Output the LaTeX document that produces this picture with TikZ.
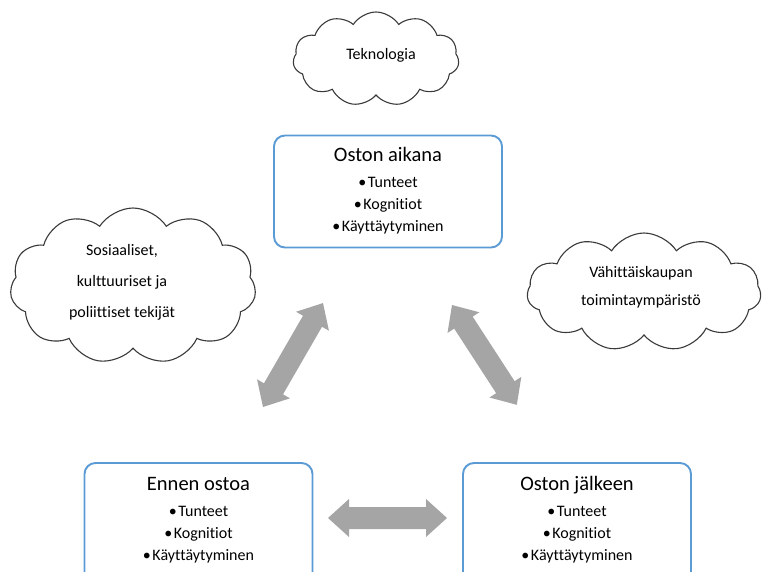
\documentclass[tikz,border=0pt]{standalone}
\usepackage{fontspec}
\setmainfont{Carlito}[Ligatures=NoCommon]
\usetikzlibrary{shapes.symbols}
\definecolor{boxblue}{HTML}{5B9BD5}
\definecolor{arrowgray}{HTML}{A5A5A5}
\definecolor{cloudline}{HTML}{3A3A3A}
\newcommand{\itembullet}{•\kern1.5pt}
\tikzset{
  x=1pt, y=-1pt,
  stagebox/.style={draw=boxblue, line width=1.9pt, rounded corners=11pt,
    fill=white, minimum width=228pt, inner sep=0pt},
  stagetitle/.style={anchor=base, font=\fontsize{20.5}{24}\selectfont, inner sep=0pt},
  stageitem/.style={anchor=base, font=\fontsize{16}{19}\selectfont, inner sep=0pt},
  cloudtext/.style={anchor=base, font=\fontsize{16}{19}\selectfont, inner sep=0pt},
  factor/.style={cloud, cloud puffs=11, cloud puff arc=115, cloud ignores aspect,
    draw=cloudline, line width=1.1pt, fill=white, inner sep=0pt},
  flowarrow/.style={fill=arrowgray, draw=none}
}
% double-headed block arrow of length #1 along the local x axis
\newcommand{\blockarrow}[1]{%
  \path[flowarrow] (0,0) -- (21,19) -- (21,11) -- (#1-21,11) -- (#1-21,19)
    -- (#1,0) -- (#1-21,-19) -- (#1-21,-11) -- (21,-11) -- (21,-19) -- cycle;}
\begin{document}
\begin{tikzpicture}
\useasboundingbox (0,0) rectangle (763,572);
\clip (0,0) rectangle (763,572);

% stage boxes
\node[stagebox, minimum height=112pt] (during) at (388,191.5) {};
\node[stagebox, minimum height=130pt] (before) at (198.5,528) {};
\node[stagebox, minimum height=130pt] (after) at (577,528) {};

% box texts
\node[stagetitle] (duringT) at (388,162) {Oston aikana};
\node[stageitem] (during1) at (388,188) {\itembullet Tunteet};
\node[stageitem] (during2) at (388,210) {\itembullet Kognitiot};
\node[stageitem] (during3) at (388,232) {\itembullet Käyttäytyminen};

\node[stagetitle] (beforeT) at (198.5,490) {Ennen ostoa};
\node[stageitem] (before1) at (198.5,516) {\itembullet Tunteet};
\node[stageitem] (before2) at (198.5,538) {\itembullet Kognitiot};
\node[stageitem] (before3) at (198.5,560) {\itembullet Käyttäytyminen};

\node[stagetitle] (afterT) at (577,490) {Oston jälkeen};
\node[stageitem] (after1) at (577,516) {\itembullet Tunteet};
\node[stageitem] (after2) at (577,538) {\itembullet Kognitiot};
\node[stageitem] (after3) at (577,560) {\itembullet Käyttäytyminen};

% surrounding factors
\node[factor, minimum width=166pt, minimum height=94pt] (tech) at (376,59) {};
\node[cloudtext] (techT) at (381,60) {Teknologia};

\node[factor, minimum width=246pt, minimum height=156pt] (social) at (133,286) {};
\node[cloudtext] (social1) at (122,255) {Sosiaaliset,};
\node[cloudtext] (social2) at (122,286) {kulttuuriset ja};
\node[cloudtext] (social3) at (122,317) {poliittiset tekijät};

\node[factor, minimum width=234pt, minimum height=118pt] (retail) at (644,292) {};
\node[cloudtext] (retail1) at (641,277) {Vähittäiskaupan};
\node[cloudtext] (retail2) at (641,305) {toimintaympäristö};

% interaction arrows between the stages
\begin{scope}[shift={(263,407)}, rotate=60]
  \blockarrow{120}
\end{scope}
\begin{scope}[shift={(452,305)}, rotate=-57]
  \blockarrow{119}
\end{scope}
\begin{scope}[shift={(328,518)}]
  \blockarrow{119}
\end{scope}
\end{tikzpicture}
\end{document}
